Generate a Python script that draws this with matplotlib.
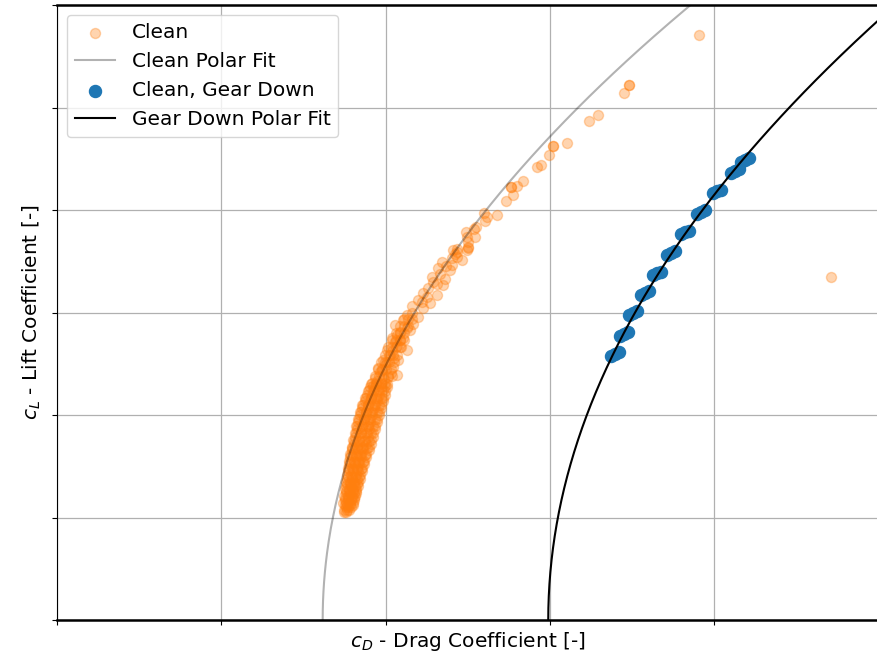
"""
Drag polar: clean vs. gear-down configuration with quadratic polar fits.
"""
import matplotlib
matplotlib.use('Agg')
import matplotlib.pyplot as plt
import numpy as np

# ── Measured points (cD, cL) ───────────────────────────────────────────────
CLEAN_PTS = [
    # dense low-cL band
    (0.03747, 0.107), (0.03765, 0.107), (0.03777, 0.107),
    (0.03756, 0.110), (0.03771, 0.110), (0.03789, 0.110),
    (0.03741, 0.114), (0.03759, 0.114), (0.03783, 0.114), (0.03802, 0.114),
    (0.03750, 0.117), (0.03771, 0.117), (0.03792, 0.117), (0.03808, 0.117),
    (0.03747, 0.121), (0.03771, 0.121), (0.03795, 0.121), (0.03814, 0.121),
    (0.03756, 0.124), (0.03783, 0.124), (0.03805, 0.124), (0.03820, 0.124),
    (0.03753, 0.128), (0.03777, 0.128), (0.03802, 0.128), (0.03820, 0.128),
    (0.03762, 0.131), (0.03789, 0.131), (0.03814, 0.131), (0.03829, 0.131),
    (0.03759, 0.135), (0.03783, 0.135), (0.03808, 0.135), (0.03832, 0.135),
    (0.03768, 0.138), (0.03795, 0.138), (0.03823, 0.138), (0.03844, 0.138),
    (0.03765, 0.141), (0.03789, 0.141), (0.03820, 0.141), (0.03844, 0.141),
    (0.03774, 0.145), (0.03802, 0.145), (0.03832, 0.145), (0.03856, 0.145),
    (0.03771, 0.148), (0.03795, 0.148), (0.03826, 0.148), (0.03856, 0.148),
    (0.03780, 0.152), (0.03811, 0.152), (0.03841, 0.152), (0.03869, 0.152),
    (0.03777, 0.155), (0.03808, 0.155), (0.03838, 0.155), (0.03869, 0.155),
    (0.03786, 0.159), (0.03820, 0.159), (0.03853, 0.159), (0.03881, 0.159),
    (0.03783, 0.162), (0.03814, 0.162), (0.03850, 0.162), (0.03881, 0.162),
    (0.03795, 0.166), (0.03829, 0.166), (0.03865, 0.166), (0.03896, 0.166),
    (0.03795, 0.169), (0.03826, 0.169), (0.03862, 0.169), (0.03899, 0.169),
    (0.03805, 0.172), (0.03841, 0.172), (0.03878, 0.172), (0.03911, 0.172),
    (0.03802, 0.176), (0.03838, 0.176), (0.03875, 0.176), (0.03911, 0.176),
    (0.03814, 0.179), (0.03850, 0.179), (0.03890, 0.179), (0.03923, 0.179),
    (0.03814, 0.182), (0.03850, 0.182), (0.03887, 0.182), (0.03923, 0.182),
    (0.03823, 0.186), (0.03859, 0.186), (0.03896, 0.186), (0.03936, 0.186),
    (0.03820, 0.189), (0.03856, 0.189), (0.03893, 0.189), (0.03936, 0.189),
    (0.03832, 0.193), (0.03869, 0.193), (0.03908, 0.193), (0.03948, 0.193),
    (0.03832, 0.196), (0.03869, 0.196), (0.03905, 0.196), (0.03948, 0.196),
    (0.03844, 0.200), (0.03881, 0.200), (0.03917, 0.200), (0.03960, 0.200),
    (0.03844, 0.203), (0.03881, 0.203), (0.03917, 0.203), (0.03960, 0.203),
    (0.03856, 0.207), (0.03893, 0.207), (0.03932, 0.207), (0.03972, 0.207),
    (0.03856, 0.210), (0.03893, 0.210), (0.03936, 0.210), (0.03972, 0.210),
    (0.03872, 0.214), (0.03908, 0.214), (0.03948, 0.214), (0.03984, 0.214),
    (0.03875, 0.217), (0.03911, 0.217), (0.03948, 0.217), (0.03984, 0.217),
    (0.03887, 0.220), (0.03920, 0.220), (0.03960, 0.220), (0.03996, 0.220),
    (0.03893, 0.223), (0.03923, 0.223), (0.03960, 0.223), (0.03996, 0.223),
    (0.03905, 0.227), (0.03936, 0.227), (0.03972, 0.227), (0.04009, 0.227),
    (0.03911, 0.230), (0.03942, 0.230), (0.03972, 0.230), (0.04009, 0.230),
    # dense band, second pass
    (0.03745, 0.105), (0.03760, 0.105),
    (0.03750, 0.112), (0.03768, 0.112), (0.03786, 0.112), (0.03800, 0.112),
    (0.03752, 0.119), (0.03773, 0.119), (0.03793, 0.119), (0.03810, 0.119),
    (0.03758, 0.126), (0.03780, 0.126), (0.03800, 0.126), (0.03818, 0.126),
    (0.03763, 0.133), (0.03786, 0.133), (0.03808, 0.133), (0.03828, 0.133),
    (0.03770, 0.140), (0.03793, 0.140), (0.03816, 0.140), (0.03838, 0.140),
    (0.03776, 0.147), (0.03800, 0.147), (0.03825, 0.147), (0.03850, 0.147),
    (0.03782, 0.154), (0.03808, 0.154), (0.03835, 0.154), (0.03862, 0.154),
    (0.03790, 0.161), (0.03817, 0.161), (0.03845, 0.161), (0.03873, 0.161),
    (0.03798, 0.168), (0.03826, 0.168), (0.03856, 0.168), (0.03886, 0.168),
    (0.03806, 0.175), (0.03836, 0.175), (0.03867, 0.175), (0.03898, 0.175),
    (0.03818, 0.182), (0.03848, 0.182), (0.03878, 0.182), (0.03910, 0.182),
    (0.03826, 0.189), (0.03858, 0.189), (0.03890, 0.189), (0.03922, 0.189),
    (0.03838, 0.196), (0.03870, 0.196), (0.03902, 0.196), (0.03935, 0.196),
    (0.03850, 0.203), (0.03882, 0.203), (0.03914, 0.203), (0.03946, 0.203),
    (0.03862, 0.210), (0.03895, 0.210), (0.03928, 0.210), (0.03958, 0.210),
    (0.03880, 0.217), (0.03910, 0.217), (0.03940, 0.217), (0.03970, 0.217),
    (0.03898, 0.224), (0.03928, 0.224), (0.03955, 0.224), (0.03984, 0.224),
    (0.03915, 0.231), (0.03944, 0.231), (0.03970, 0.231), (0.03998, 0.231),
    (0.03935, 0.238), (0.03960, 0.238), (0.03985, 0.238), (0.04012, 0.238),
    (0.04040, 0.238),
    (0.03955, 0.245), (0.03978, 0.245), (0.04002, 0.245), (0.04030, 0.245),
    (0.03975, 0.252), (0.03998, 0.252), (0.04020, 0.252), (0.04050, 0.252),
    (0.03995, 0.259), (0.04018, 0.259), (0.04042, 0.259), (0.04070, 0.259),
    (0.04015, 0.266), (0.04040, 0.266), (0.04065, 0.266), (0.04092, 0.266),
    (0.04040, 0.273), (0.04065, 0.273), (0.04090, 0.273), (0.04115, 0.273),
    (0.04062, 0.280), (0.04088, 0.280), (0.04112, 0.280),
    (0.04085, 0.287), (0.04110, 0.287), (0.04136, 0.287),
    (0.04110, 0.294), (0.04135, 0.294), (0.04160, 0.294),
    # mid band
    (0.03925, 0.228), (0.03996, 0.228), (0.03950, 0.233), (0.03990, 0.235),
    (0.03935, 0.236), (0.04016, 0.237), (0.04068, 0.239), (0.04030, 0.241),
    (0.03966, 0.242), (0.03980, 0.244), (0.03956, 0.246), (0.04047, 0.247),
    (0.03996, 0.249), (0.04010, 0.252), (0.03986, 0.254), (0.04077, 0.254),
    (0.04050, 0.256), (0.04027, 0.259), (0.04040, 0.262), (0.04007, 0.263),
    (0.04128, 0.263), (0.04090, 0.266), (0.04068, 0.267), (0.04057, 0.271),
    (0.04088, 0.273), (0.04037, 0.275), (0.04108, 0.275), (0.04070, 0.278),
    (0.04088, 0.281), (0.04148, 0.283), (0.04130, 0.285), (0.04057, 0.288),
    (0.04169, 0.289), (0.04108, 0.293), (0.04199, 0.296), (0.04128, 0.298),
    (0.04160, 0.300), (0.04229, 0.304), (0.04159, 0.306), (0.04270, 0.309),
    (0.04220, 0.310), (0.04199, 0.312), (0.04250, 0.315), (0.04311, 0.317),
    (0.04229, 0.319), (0.04260, 0.324), (0.04351, 0.327), (0.04311, 0.328),
    (0.04290, 0.330), (0.04360, 0.333), (0.04281, 0.335), (0.04331, 0.338),
    (0.04392, 0.341), (0.04319, 0.343), (0.04370, 0.345), (0.04402, 0.346),
    (0.04341, 0.349), (0.04463, 0.351), (0.04402, 0.353), (0.04433, 0.354),
    (0.04420, 0.357), (0.04433, 0.359), (0.04494, 0.361), (0.04412, 0.361),
    (0.04433, 0.362), (0.04501, 0.363), (0.04500, 0.364), (0.04503, 0.369),
    (0.04494, 0.374), (0.04544, 0.374), (0.04489, 0.379), (0.04538, 0.381),
    (0.04550, 0.383),
    # upper sparse points
    (0.04605, 0.389), (0.04615, 0.393), (0.04680, 0.395), (0.04599, 0.397),
    (0.04731, 0.409), (0.04777, 0.415), (0.04763, 0.422), (0.04763, 0.422),
    (0.04798, 0.423), (0.04834, 0.428), (0.04920, 0.442), (0.04944, 0.444),
    (0.04993, 0.454), (0.05017, 0.462), (0.05017, 0.462), (0.05104, 0.465),
    (0.05238, 0.487), (0.05291, 0.493), (0.05451, 0.514), (0.05483, 0.522),
    (0.05483, 0.522), (0.05908, 0.571), (0.06711, 0.335),
]

GEAR_PTS = [
    (0.05372, 0.258), (0.05396, 0.260), (0.05421, 0.261),
    (0.05427, 0.277), (0.05451, 0.279), (0.05475, 0.281),
    (0.05481, 0.298), (0.05506, 0.300), (0.05530, 0.301),
    (0.05554, 0.317), (0.05579, 0.319), (0.05603, 0.321),
    (0.05628, 0.337), (0.05652, 0.339), (0.05676, 0.340),
    (0.05713, 0.356), (0.05737, 0.358), (0.05761, 0.360),
    (0.05798, 0.377), (0.05822, 0.379), (0.05847, 0.380),
    (0.05895, 0.396), (0.05920, 0.398), (0.05944, 0.400),
    (0.05993, 0.417), (0.06017, 0.419), (0.06041, 0.420),
    (0.06102, 0.436), (0.06127, 0.438), (0.06151, 0.440),
    (0.06163, 0.447), (0.06187, 0.449), (0.06212, 0.451),
]

# ── Polar fit coefficients: cD = cD0 + k * cL^2 ───────────────────────────
CD0_CLEAN, K_CLEAN = 0.03617, 0.0622
CD0_GEAR, K_GEAR = 0.04990, 0.0587

XTICKS = [0.02, 0.03, 0.04, 0.05, 0.06, 0.07]
YTICKS = [0.0, 0.1, 0.2, 0.3, 0.4, 0.5, 0.6]

clean = np.array(CLEAN_PTS)
gear = np.array(GEAR_PTS)
cl_fit = np.linspace(0, 0.7, 300)

fig = plt.figure(figsize=(8.77, 6.53), dpi=100)
ax = fig.add_axes([57 / 877, 33 / 653, 821.5 / 877, 615 / 653])

ax.scatter(clean[:, 0], clean[:, 1], s=52, color='tab:orange', alpha=0.33,
           label='Clean', zorder=2)
ax.plot(CD0_CLEAN + K_CLEAN * cl_fit**2, cl_fit, color='k', alpha=0.3,
        linewidth=1.5, label='Clean Polar Fit', zorder=3)
ax.scatter(gear[:, 0], gear[:, 1], s=75, color='tab:blue', alpha=1.0,
           label='Clean, Gear Down', zorder=2)
ax.plot(CD0_GEAR + K_GEAR * cl_fit**2, cl_fit, color='k', linewidth=1.5,
        label='Gear Down Polar Fit', zorder=3)

ax.set_xlim(XTICKS[0], XTICKS[-1])
ax.set_ylim(YTICKS[0], YTICKS[-1])
ax.set_xticks(XTICKS)
ax.set_yticks(YTICKS)
ax.set_xticklabels([])
ax.set_yticklabels([])
ax.tick_params(length=3.5)
ax.grid(True, color='#b0b0b0', linewidth=0.9)
ax.set_axisbelow(True)
ax.spines['top'].set_linewidth(1.8)
ax.spines['bottom'].set_linewidth(1.8)

ax.set_xlabel('$c_D$ - Drag Coefficient [-]', fontsize=14.5, labelpad=0)
ax.set_ylabel('$c_L$ - Lift Coefficient [-]', fontsize=14.5, labelpad=3)
ax.legend(loc='upper left', fontsize=14.5, scatterpoints=1)

fig.savefig('out.png', dpi=100)
